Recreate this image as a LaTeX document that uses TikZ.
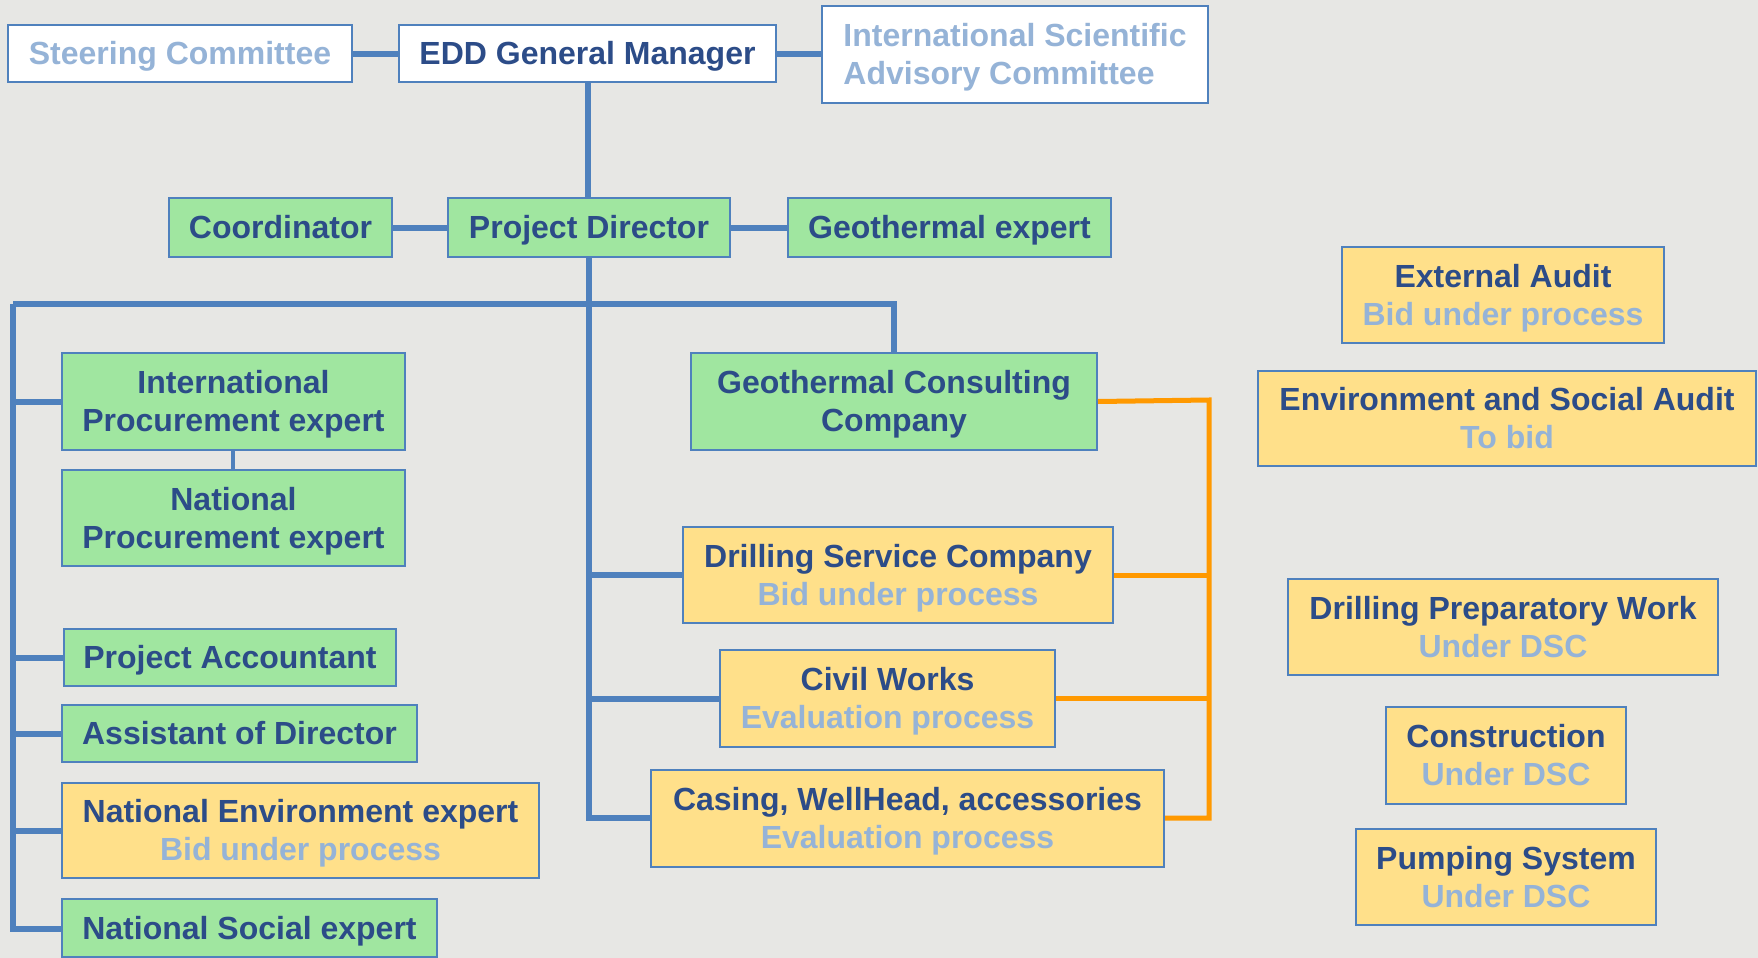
\documentclass[tikz,border=0pt]{standalone}
\usepackage{fontspec}
\setmainfont{Liberation Sans}
\definecolor{bgc}{RGB}{231,231,228}
\definecolor{gfill}{RGB}{160,230,160}
\definecolor{yfill}{RGB}{255,224,138}
\definecolor{bline}{RGB}{79,129,189}
\definecolor{dtext}{RGB}{44,76,136}
\definecolor{ltext}{RGB}{149,179,215}
\definecolor{oline}{RGB}{255,153,0}
\newcommand\bx[7]{\node[#6, minimum width={(#4-#2)*0.5pt}, minimum height={(#5-#3)*0.5pt}] (#1) at ({(#2+#4)/2},{(#3+#5)/2}) {};
  \node[txt, #6, draw=none, fill=none] (#1-t) at ([yshift=-1.85pt]#1.center) {\strut #7\strut};}
\newcommand\lt[1]{\\\textcolor{ltext}{#1}}
\begin{document}
\begin{tikzpicture}[x=0.5pt,y=-0.5pt,
  base/.style={draw=bline, line width=1pt, inner sep=0pt, align=center, text=dtext,
    font=\fontsize{16}{19}\selectfont\bfseries},
  txt/.style={inner sep=0pt},
  wbox/.style={base, fill=white},
  gbox/.style={base, fill=gfill},
  ybox/.style={base, fill=yfill},
  bl/.style={draw=bline, line width=3pt},
  ol/.style={draw=oline, line width=2.5pt}]
\fill[bgc] (0,0) rectangle (1758,958);
\useasboundingbox (0,0) rectangle (1758,958);
% bus coordinates
\coordinate (busL) at (13,304);
\coordinate (busC) at (589,304);
\coordinate (busR) at (894,304);
\coordinate (cBot) at (589,818);
\coordinate (lBot) at (13,929);
\coordinate (oTop) at (1209,400);
\coordinate (oBot) at (1209,818);
\coordinate (pj) at (233,450);
% boxes
\bx{sc}{8}{25}{352}{82}{wbox, text=ltext}{Steering Committee}
\bx{edd}{399}{25}{776}{82}{wbox}{EDD General Manager}
\bx{isac}{822}{6}{1208}{103}{wbox, text=ltext, align=left}{International Scientific\\Advisory Committee}
\bx{coord}{169}{198}{392}{257}{gbox}{Coordinator}
\bx{pd}{448}{198}{730}{257}{gbox}{Project Director}
\bx{ge}{788}{198}{1111}{257}{gbox}{Geothermal expert}
\bx{ipe}{62}{353}{405}{450}{gbox}{International\\Procurement expert}
\bx{npe}{62}{470}{405}{566}{gbox}{National\\Procurement expert}
\bx{pa}{64}{629}{396}{686}{gbox}{Project Accountant}
\bx{ad}{62}{705}{417}{762}{gbox}{Assistant of Director}
\bx{nee}{62}{783}{539}{878}{ybox}{National Environment expert\lt{Bid under process}}
\bx{nse}{62}{899}{437}{957}{gbox}{National Social expert}
\bx{gcc}{691}{353}{1097}{450}{gbox}{Geothermal Consulting\\Company}
\bx{dsc}{683}{527}{1113}{623}{ybox}{Drilling Service Company\lt{Bid under process}}
\bx{cw}{720}{650}{1055}{747}{ybox}{Civil Works\lt{Evaluation process}}
\bx{cwa}{651}{770}{1164}{867}{ybox}{Casing, WellHead, accessories\lt{Evaluation process}}
\bx{ea}{1342}{247}{1664}{343}{ybox}{External Audit\lt{Bid under process}}
\bx{esa}{1258}{371}{1756}{466}{ybox}{Environment and Social Audit\lt{To bid}}
\bx{dpw}{1288}{579}{1718}{675}{ybox}{Drilling Preparatory Work\lt{Under DSC}}
\bx{con}{1386}{707}{1626}{804}{ybox}{Construction\lt{Under DSC}}
\bx{pump}{1356}{829}{1656}{925}{ybox}{Pumping System\lt{Under DSC}}
% blue connectors
\draw[bl] (sc.east) -- (sc.east -| edd.west);
\draw[bl] (edd.east |- sc.east) -- (edd.east |- sc.east -| isac.west);
\draw[bl] (edd.south) -- (edd.south |- pd.north);
\draw[bl] (coord.east) -- (pd.west);
\draw[bl] (pd.east) -- (ge.west);
\draw[bl] (pd.south -| busC) -- (cBot) -- (cwa.west |- cBot);
\draw[bl] (busL) -- (busR) -- (gcc.north);
\draw[bl] (busL) -- (lBot) -- (nse.west |- lBot);
\draw[bl] (busL |- ipe.west) -- (ipe.west);
\draw[bl] (busL |- pa.west) -- (pa.west);
\draw[bl] (busL |- ad.west) -- (ad.west);
\draw[bl] (busL |- nee.west) -- (nee.west);
\draw[bl, line width=2pt] (ipe.south -| pj) -- (npe.north -| pj);
\draw[bl] (busC |- dsc.west) -- (dsc.west);
\draw[bl] (busC |- cw.west) -- (cw.west);
% orange connectors
\draw[ol] (gcc.east) -- (oTop) -- (oBot) -- (cwa.east |- oBot);
\draw[ol] (dsc.east) -- (oTop |- dsc.east);
\draw[ol] (cw.east) -- (oTop |- cw.east);
\end{tikzpicture}
\end{document}
